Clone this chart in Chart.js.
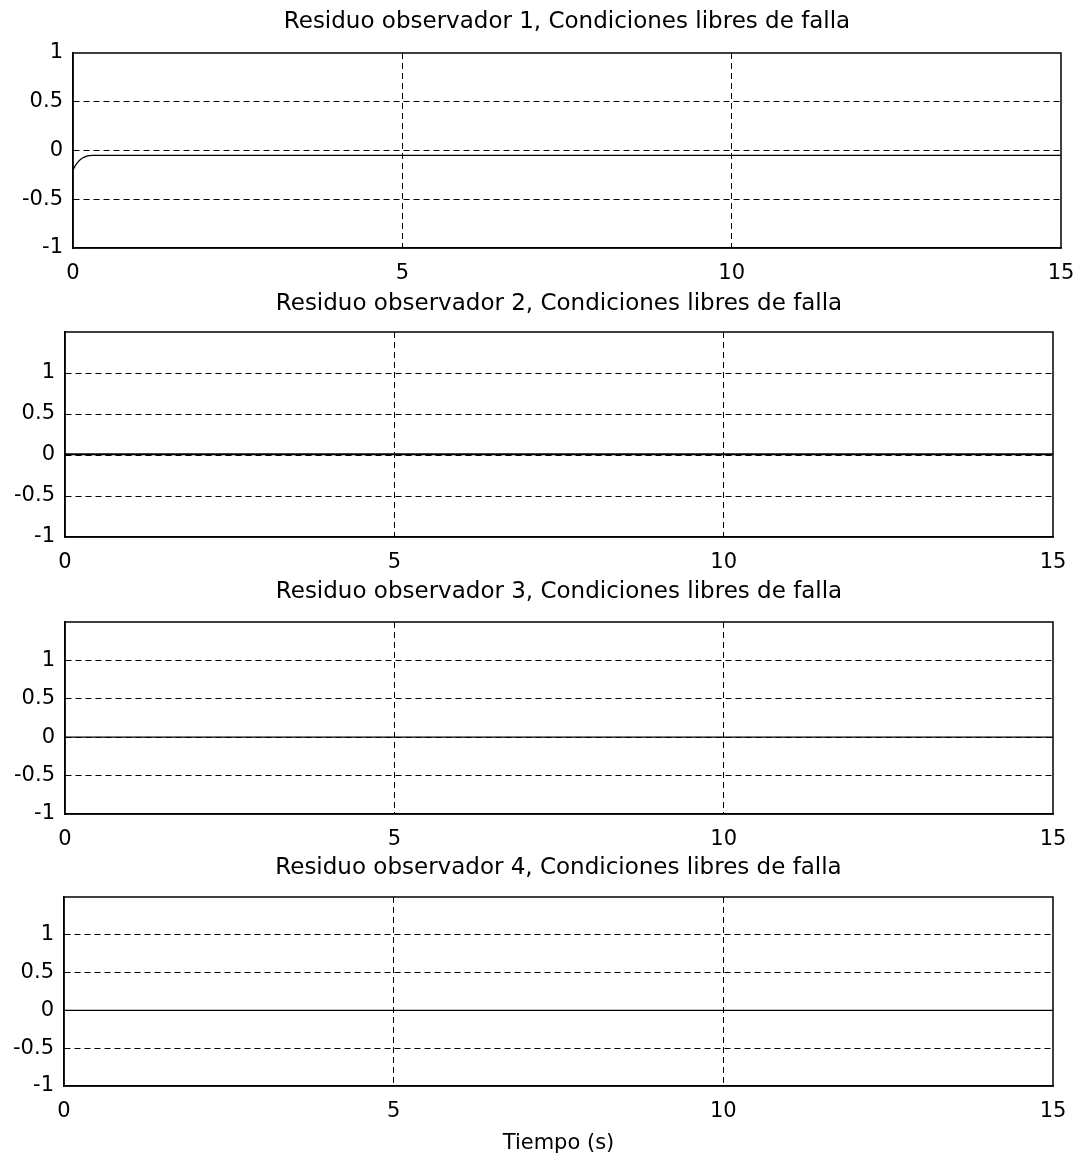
<!DOCTYPE html>
<html>
<head>
<meta charset="utf-8">
<script src="https://cdn.jsdelivr.net/npm/chart.js@4/dist/chart.umd.min.js"></script>
<style>
  html, body { margin: 0; padding: 0; background: #fff; overflow: hidden; }
  body { width: 1077px; height: 1162px; position: relative; }
  canvas { position: absolute; left: 0; }
</style>
</head>
<body>
<canvas id="c1"></canvas>
<canvas id="c2"></canvas>
<canvas id="c3"></canvas>
<canvas id="c4"></canvas>
<script>
// data
const titles = [
  'Residuo observador 1, Condiciones libres de falla',
  'Residuo observador 2, Condiciones libres de falla',
  'Residuo observador 3, Condiciones libres de falla',
  'Residuo observador 4, Condiciones libres de falla'
];
const xTicks = [0, 5, 10, 15];
const yTicks = [-1, -0.5, 0, 0.5, 1];
const yMax = [1, 1.5, 1.5, 1.5];

const t1 = [0, 0.05, 0.1, 0.15, 0.2, 0.25, 0.3, 15];
const r1 = [-0.2, -0.14, -0.1, -0.075, -0.06, -0.052, -0.05, -0.05];
const t2 = [0, 15];
const r2 = [0.01, 0.01];
const t3 = [0, 15];
const r3 = [0, 0];
const t4 = [0, 15];
const r4 = [0, 0];

const series = [[t1, r1], [t2, r2], [t3, r3], [t4, r4]];

// panel geometry (pixels in the page)
const panels = [
  { left: 73, right: 1061, top: 53, bottom: 248, titleY: 22, axisH: 42, lw: 1.2 },
  { left: 65, right: 1053, top: 332, bottom: 537, titleY: 304, axisH: 42, lw: 2 },
  { left: 65, right: 1053, top: 622, bottom: 814, titleY: 592, axisH: 42, lw: 1.2 },
  { left: 64, right: 1053, top: 897, bottom: 1086, titleY: 868, axisH: 76, lw: 1.2 }
];

const FAMILY = '"DejaVu Sans", sans-serif';
const TITLE_FONT = { family: FAMILY, size: 23, weight: 'normal' };
const TICK_FONT = { family: FAMILY, size: 21 };
const CW = 1110; // canvas wider than the page, clipped by body

const hideEnds = (c) =>
  (c.tick.value === c.scale.min || c.tick.value === c.scale.max) ? 'rgba(0,0,0,0)' : '#000';

const frame = {
  id: 'frame',
  afterDraw(chart) {
    const a = chart.chartArea, ctx = chart.ctx;
    ctx.save();
    ctx.strokeStyle = '#000';
    ctx.lineWidth = 1.5;
    ctx.strokeRect(a.left, a.top, a.right - a.left, a.bottom - a.top);
    ctx.restore();
  }
};

Chart.defaults.font.family = FAMILY;
Chart.defaults.color = '#000';

panels.forEach((p, i) => {
  const cv = document.getElementById('c' + (i + 1));
  const lh = TITLE_FONT.size * 1.2;
  const canvasTop = Math.round(p.titleY - 10 - lh / 2);
  const titlePadBottom = p.top - canvasTop - 10 - lh;
  const height = (p.bottom - canvasTop) + p.axisH;
  cv.style.top = canvasTop + 'px';
  cv.style.width = CW + 'px';
  cv.style.height = height + 'px';
  cv.width = CW;
  cv.height = height;

  const [tx, ry] = series[i];
  const last = i === panels.length - 1;

  new Chart(cv, {
    type: 'line',
    data: {
      datasets: [{
        data: tx.map((x, k) => ({ x: x, y: ry[k] })),
        borderColor: '#000',
        borderWidth: p.lw,
        pointRadius: 0,
        tension: 0.3,
        fill: false
      }]
    },
    options: {
      responsive: false,
      animation: false,
      layout: { padding: { left: 0, right: CW - p.right, top: 0, bottom: 0 } },
      plugins: {
        legend: { display: false },
        tooltip: { enabled: false },
        title: {
          display: true,
          fullSize: false,   // centre over the plot area
          text: titles[i],
          color: '#000',
          font: TITLE_FONT,
          padding: { top: 10, bottom: titlePadBottom }
        }
      },
      scales: {
        x: {
          type: 'linear',
          min: 0,
          max: 15,
          afterBuildTicks: (s) => { s.ticks = xTicks.map(v => ({ value: v })); },
          afterFit: (s) => { s.height = p.axisH; },
          ticks: { font: TICK_FONT, color: '#000', padding: 13, maxRotation: 0,
                   callback: (v) => String(v) },
          grid: { color: hideEnds, lineWidth: 1, drawTicks: false },
          border: { display: true, color: '#000', width: 1.5, dash: [6, 4] },
          title: {
            display: last,
            text: 'Tiempo (s)',
            color: '#000',
            font: TICK_FONT,
            padding: { top: 6, bottom: 6 }
          }
        },
        y: {
          type: 'linear',
          min: -1,
          max: yMax[i],
          afterBuildTicks: (s) => { s.ticks = yTicks.map(v => ({ value: v })); },
          afterFit: (s) => { s.width = p.left; },
          ticks: { font: TICK_FONT, color: '#000', padding: 10,
                   callback: (v) => String(v) },
          grid: { color: hideEnds, lineWidth: 1, drawTicks: false },
          border: { display: true, color: '#000', width: 1.5, dash: [6, 4] }
        }
      }
    },
    plugins: [frame]
  });
});
</script>
</body>
</html>
